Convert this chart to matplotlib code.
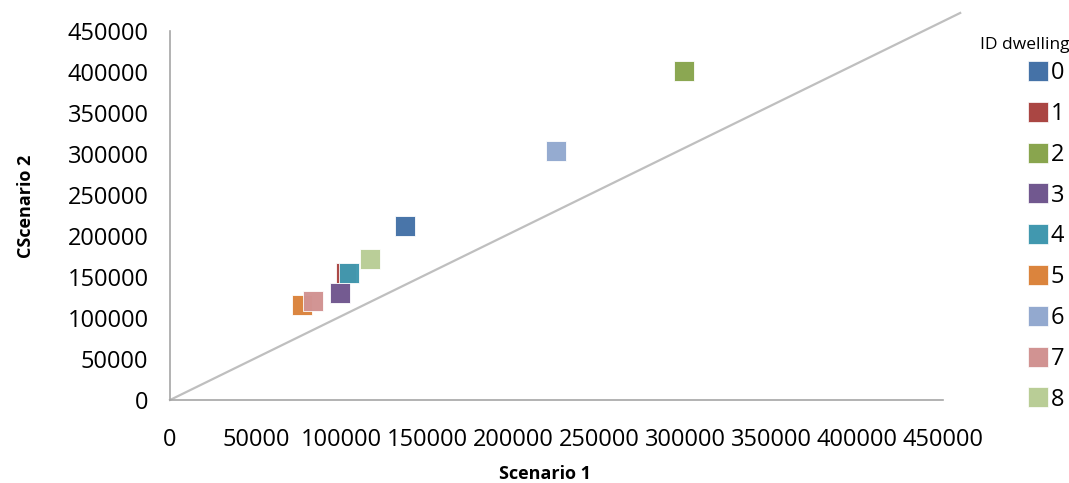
import matplotlib.pyplot as plt
from matplotlib.lines import Line2D

plt.rcParams['font.family'] = ['Open Sans', 'DejaVu Sans']

# dwelling ids and their costs in the two scenarios
ids = ['0', '1', '2', '3', '4', '5', '6', '7', '8']
scenario1 = [136800, 102400, 299200, 98900, 104200, 76800, 224700, 83200, 116400]
scenario2 = [212200, 154900, 401200, 130500, 155000, 115800, 303700, 120700, 172000]
colors = ['#4572A7', '#AA4643', '#89A54E', '#71588F', '#4198AF',
          '#DB843D', '#93A9CF', '#D19392', '#B9CD96']

# reference line
line_x = [0, 460000]
line_y = [0, 472000]

ticks = [0, 50000, 100000, 150000, 200000, 250000, 300000, 350000, 400000, 450000]

fig = plt.figure(figsize=(10.69, 4.83), dpi=100)
ax = fig.add_axes([170 / 1069, 1 - 400 / 483, 773 / 1069, 369 / 483])

ax.plot(line_x, line_y, color='#bfbfbf', lw=1.6, clip_on=False, zorder=1)

for i in range(len(ids)):
    ax.plot(scenario1[i], scenario2[i], marker='s', ms=14.5, color=colors[i],
            mec='white', mew=0.6, alpha=0.98, ls='none', zorder=3, clip_on=False)

ax.set_xlim(0, 450000)
ax.set_ylim(0, 450000)
ax.set_xticks(ticks)
ax.set_yticks(ticks)
ax.tick_params(length=0, labelsize=17, pad=15.5)
ax.tick_params(axis='x', pad=20)
for s in ['top', 'right']:
    ax.spines[s].set_visible(False)
for s in ['left', 'bottom']:
    ax.spines[s].set_color('#a6a6a6')
    ax.spines[s].set_linewidth(1.2)

ax.set_xlabel('Scenario 1', fontsize=13, fontweight='bold', va='center')
ax.set_ylabel('CScenario 2', fontsize=13, fontweight='bold', va='center')
ax.xaxis.set_label_coords(0.485, -0.2)
ax.yaxis.set_label_coords(-0.186, 0.526)

fig.text(1070 / 1069, 1 - 45 / 483, 'ID dwelling', fontsize=12.5, ha='right', va='center')

handles = [Line2D([], [], marker='s', ms=14, color=c, mec='white', mew=0.5, ls='none')
           for c in colors]
leg = fig.legend(handles, ids, loc='upper right', bbox_to_anchor=(1074 / 1069, 1 - 52 / 483),
                 frameon=False, fontsize=17, labelspacing=0.71, handlelength=0.9,
                 handletextpad=0.1, borderaxespad=0)

fig.savefig('out.png', dpi=100)
